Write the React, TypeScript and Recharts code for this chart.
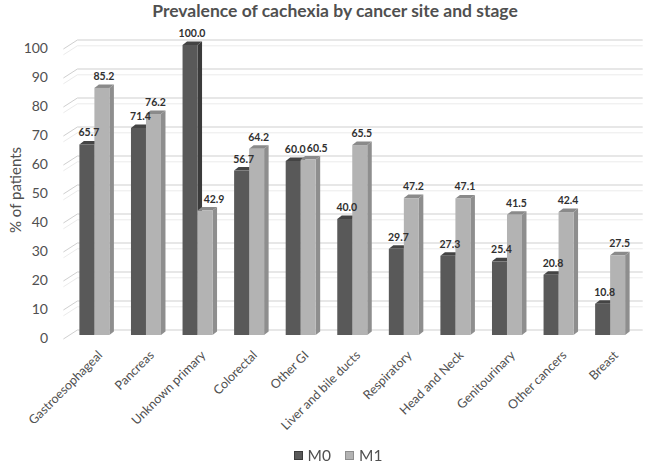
import React from 'react';
import { BarChart, Bar, XAxis, YAxis, CartesianGrid, Legend, LabelList } from 'recharts';

const categories = [
  'Gastroesophageal',
  'Pancreas',
  'Unknown primary',
  'Colorectal',
  'Other GI',
  'Liver and bile ducts',
  'Respiratory',
  'Head and Neck',
  'Genitourinary',
  'Other cancers',
  'Breast',
];
const m0Values = [65.7, 71.4, 100.0, 56.7, 60.0, 40.0, 29.7, 27.3, 25.4, 20.8, 10.8];
const m1Values = [85.2, 76.2, 42.9, 64.2, 60.5, 65.5, 47.2, 47.1, 41.5, 42.4, 27.5];
const yTicks = [0, 10, 20, 30, 40, 50, 60, 70, 80, 90, 100];
const minorGrid = [
  2, 4, 6, 8, 12, 14, 16, 18, 22, 24, 26, 28, 32, 34, 36, 38, 42, 44, 46, 48,
  52, 54, 56, 58, 62, 64, 66, 68, 72, 74, 76, 78, 82, 84, 86, 88, 92, 94, 96, 98,
];

const series = [
  { key: 'm0', name: 'M0', front: '#595959', side: '#3b3b3b', top: '#444444' },
  { key: 'm1', name: 'M1', front: '#b3b3b3', side: '#8e8e8e', top: '#8a8a8a' },
];

const data = categories.map((c, i) => ({ name: c, m0: m0Values[i], m1: m1Values[i] }));

const FONT = 'Lato, "Open Sans", sans-serif';
const TEXT = '#505050';
const DX = 4.5;
const DY = 3.5;

const make3D = (front: string, side: string, top: string) => (props: any) => {
  const { x, y, width, height } = props;
  if (x == null || width == null || height == null) return null;
  return (
    <g>
      <polygon
        points={`${x + width},${y} ${x + width + DX},${y - DY} ${x + width + DX},${y + height - DY} ${x + width},${y + height}`}
        fill={side}
      />
      <polygon
        points={`${x},${y} ${x + DX},${y - DY} ${x + width + DX},${y - DY} ${x + width},${y}`}
        fill={top}
      />
      <rect x={x} y={y} width={width} height={height} fill={front} />
    </g>
  );
};

const makeGridLine = (stroke: string) => (p: any) => {
  const { x1, y1, x2 } = p;
  const bx = x1 + 9;
  const by = y1 - 5;
  return (
    <g key={`g-${y1}`}>
      <line x1={x1 - 5} y1={y1 + 4} x2={bx} y2={by} stroke={stroke} strokeWidth={1} />
      <line x1={bx} y1={by} x2={x2 + 7} y2={by} stroke={stroke} strokeWidth={1} />
    </g>
  );
};

const YTick = (props: any) => {
  const { y, payload } = props;
  return (
    <text x={48} y={y + 3} dy="0.35em" textAnchor="end" fontFamily={FONT} fontSize={14} fill={TEXT}>
      {payload.value}
    </text>
  );
};

const XTick = (props: any) => {
  const { x, y, payload } = props;
  const ax = x + 9;
  const ay = y + 13;
  return (
    <text
      x={ax}
      y={ay}
      transform={`rotate(-45, ${ax}, ${ay})`}
      textAnchor="end"
      fontFamily={FONT}
      fontSize={12.5}
      fill={TEXT}
    >
      {payload.value}
    </text>
  );
};

const makeValueLabel = (seriesKey: string) => (props: any) => {
  const { x, y, width, value, index } = props;
  if (x == null) return null;
  let shift = 0;
  if (seriesKey === 'm1' && index != null && m0Values[index] > m1Values[index] - 3) shift = 7;
  return (
    <text
      x={x + width / 2 + 2 + shift}
      y={y - 8}
      textAnchor="middle"
      fontFamily={FONT}
      fontWeight={700}
      fontSize={10.5}
      fill="#303030"
    >
      {Number(value).toFixed(1)}
    </text>
  );
};

const LegendContent = () => (
  <div
    style={{
      display: 'flex',
      justifyContent: 'center',
      alignItems: 'center',
      height: 20,
      fontFamily: FONT,
      fontSize: 15.5,
      color: TEXT,
    }}
  >
    {series.map((s) => (
      <span key={s.key} style={{ display: 'inline-flex', alignItems: 'center', margin: '0 7px' }}>
        <span
          style={{
            display: 'inline-block',
            width: 7,
            height: 7,
            background: s.front,
            border: `1px solid ${s.side}`,
            marginRight: 5,
          }}
        />
        {s.name}
      </span>
    ))}
  </div>
);

export default function App() {
  return (
    <div style={{ position: 'fixed', left: 0, top: 0, width: 650, height: 465, background: '#fff' }}>
      <div
        style={{
          position: 'absolute',
          left: 0,
          width: 670,
          top: 0,
          textAlign: 'center',
          fontFamily: FONT,
          fontWeight: 700,
          fontSize: 17.5,
          color: TEXT,
          whiteSpace: 'nowrap',
        }}
      >
        Prevalence of cachexia by cancer site and stage
      </div>
      <div
        style={{
          position: 'absolute',
          left: 15,
          top: 190,
          transform: 'translate(-50%, -50%) rotate(-90deg)',
          fontFamily: FONT,
          fontSize: 15,
          color: TEXT,
          whiteSpace: 'nowrap',
        }}
      >
        % of patients
      </div>
      <BarChart
        width={650}
        height={465}
        data={data}
        margin={{ top: 45, right: 14.3, bottom: 0, left: 0 }}
        barGap={0}
        barSize={15}
      >
        <CartesianGrid vertical={false} horizontalValues={minorGrid} horizontal={makeGridLine('#ebebeb')} />
        <CartesianGrid vertical={false} horizontalValues={yTicks} horizontal={makeGridLine('#cfcfcf')} />
        <XAxis
          dataKey="name"
          interval={0}
          axisLine={false}
          tickLine={false}
          height={110}
          tick={<XTick />}
        />
        <YAxis
          width={68.4}
          domain={[0, 100]}
          ticks={yTicks}
          axisLine={false}
          tickLine={false}
          tick={<YTick />}
        />
        <Legend
          verticalAlign="bottom"
          content={<LegendContent />}
          wrapperStyle={{ left: 13, width: 650, height: 20 }}
        />
        {series.map((s) => (
          <Bar
            key={s.key}
            dataKey={s.key}
            name={s.name}
            fill={s.front}
            isAnimationActive={false}
            shape={make3D(s.front, s.side, s.top)}
          >
            <LabelList dataKey={s.key} content={makeValueLabel(s.key)} />
          </Bar>
        ))}
      </BarChart>
    </div>
  );
}
